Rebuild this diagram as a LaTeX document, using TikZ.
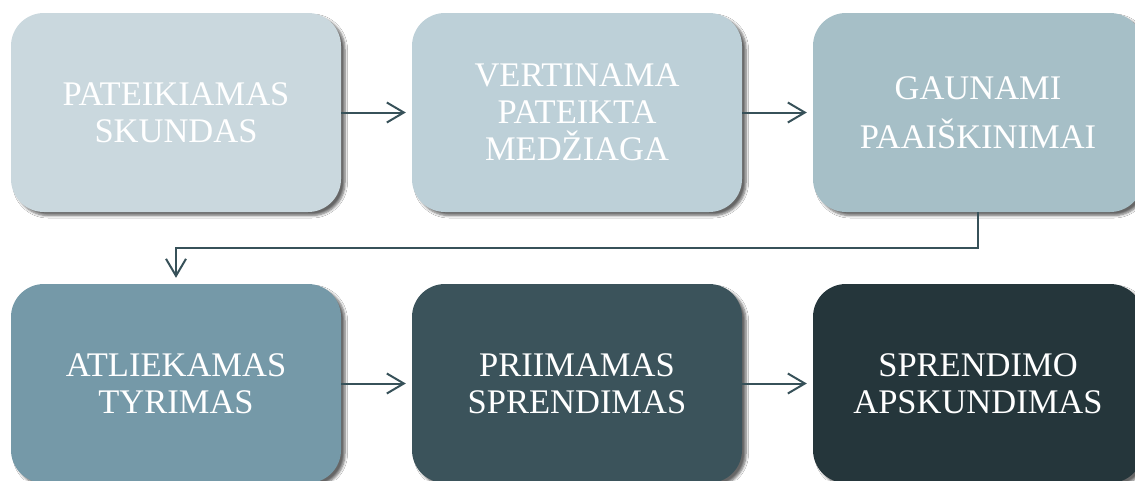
\documentclass[tikz,border=0pt]{standalone}
\usepackage{fontspec}
\setmainfont{Liberation Serif}
\usetikzlibrary{arrows.meta,shadows.blur}
\definecolor{cA}{HTML}{CAD8DE}
\definecolor{cB}{HTML}{BDD0D8}
\definecolor{cC}{HTML}{A6BFC7}
\definecolor{cD}{HTML}{7599A8}
\definecolor{cE}{HTML}{3B535B}
\definecolor{cF}{HTML}{25363B}
\definecolor{arrc}{HTML}{375159}
\tikzset{
  stepbox/.style={rounded corners=33pt, minimum width=330pt, minimum height=199pt,
    inner sep=0pt, align=center, text=white,
    font=\fontsize{34.5}{37}\selectfont,
    blur shadow={shadow xshift=4pt, shadow yshift=-3.5pt, shadow blur steps=6,
      shadow blur radius=2.5pt, shadow opacity=60}},
  arr/.style={draw=arrc, line width=2pt,
    -{Straight Barb[length=17pt,width=20pt,line width=2pt]}, shorten >=6pt}
}
\begin{document}
\begin{tikzpicture}[x=1pt,y=-1pt]
\useasboundingbox (0,0) rectangle (1135,480);
\clip (0,0) rectangle (1135,480);
\fill[white] (0,0) rectangle (1135,480);
\node[stepbox, fill=cA] (b1) at (176,112.5) {PATEIKIAMAS\\SKUNDAS};
\node[stepbox, fill=cB] (b2) at (577,112.5) {VERTINAMA\\PATEIKTA\\MEDŽIAGA};
\node[stepbox, fill=cC] (b3) at (978,112.5) {GAUNAMI\\[12pt]PAAIŠKINIMAI};
\node[stepbox, fill=cD] (b4) at (176,383.5) {ATLIEKAMAS\\TYRIMAS};
\node[stepbox, fill=cE] (b5) at (577,383.5) {PRIIMAMAS\\SPRENDIMAS};
\node[stepbox, fill=cF] (b6) at (978,383.5) {SPRENDIMO\\APSKUNDIMAS};
\draw[arr] (b1.east) -- (b2.west);
\draw[arr] (b2.east) -- (b3.west);
\draw[arr] (b3.south) -- ++(0,36) -| (b4.north);
\draw[arr] (b4.east) -- (b5.west);
\draw[arr] (b5.east) -- (b6.west);
\end{tikzpicture}
\end{document}
